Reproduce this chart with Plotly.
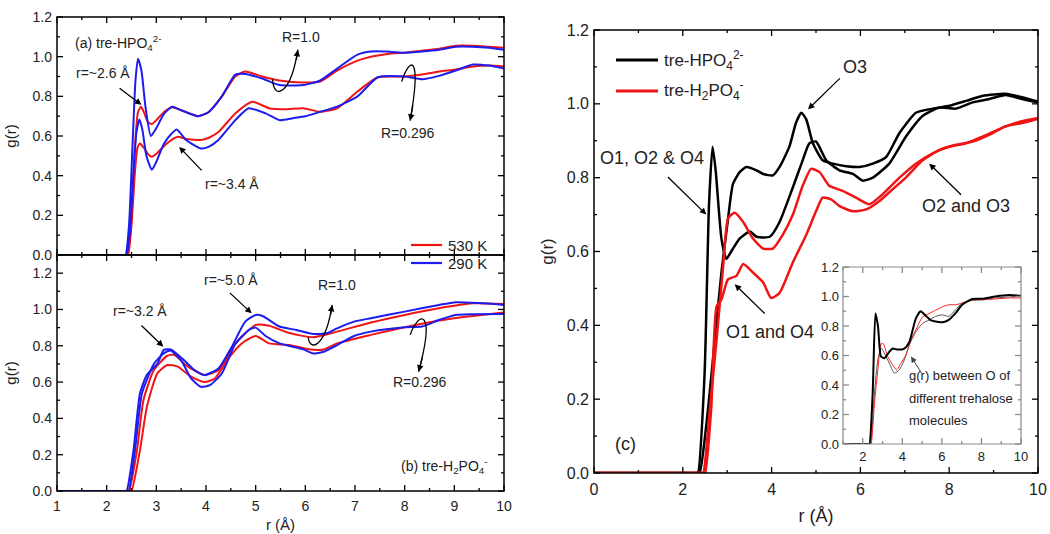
import plotly.graph_objects as go

# ---------------- Panel (a): tre-HPO4(2-) ----------------
a_r1_290_x = [1.0, 2.34, 2.38, 2.45, 2.52, 2.58, 2.63, 2.70, 2.78, 2.89, 3.0, 3.15, 3.32, 3.5, 3.84, 4.05, 4.32, 4.59, 4.79, 5.13, 5.48, 5.96, 6.30, 6.64, 7.05, 7.32, 7.7, 8.0, 8.35, 8.7, 9.03, 9.37, 9.7, 10.0]
a_r1_290_y = [0, 0, 0, 0.15, 0.55, 0.88, 0.99, 0.93, 0.75, 0.60, 0.64, 0.71, 0.748, 0.73, 0.70, 0.72, 0.80, 0.91, 0.913, 0.89, 0.857, 0.857, 0.88, 0.94, 1.01, 1.026, 1.025, 1.02, 1.026, 1.035, 1.05, 1.05, 1.045, 1.035]
a_r1_530_x = [1.0, 2.38, 2.42, 2.5, 2.57, 2.63, 2.69, 2.75, 2.83, 2.91, 3.0, 3.15, 3.32, 3.5, 3.84, 4.05, 4.32, 4.59, 4.79, 5.13, 5.48, 5.96, 6.30, 6.64, 7.05, 7.32, 7.7, 8.0, 8.35, 8.7, 9.03, 9.37, 9.7, 10.0]
a_r1_530_y = [0, 0, 0, 0.2, 0.55, 0.72, 0.748, 0.72, 0.67, 0.66, 0.68, 0.72, 0.745, 0.73, 0.70, 0.72, 0.80, 0.90, 0.925, 0.90, 0.88, 0.87, 0.875, 0.93, 0.98, 1.0, 1.015, 1.02, 1.03, 1.04, 1.055, 1.055, 1.05, 1.045]
a_r3_290_x = [1.0, 2.36, 2.40, 2.47, 2.54, 2.60, 2.66, 2.72, 2.80, 2.91, 3.0, 3.15, 3.30, 3.41, 3.6, 3.9, 4.05, 4.25, 4.59, 4.86, 5.2, 5.48, 5.75, 6.0, 6.3, 6.64, 7.05, 7.46, 8.0, 8.35, 8.69, 9.03, 9.37, 9.7, 10.0]
a_r3_290_y = [0, 0, 0, 0.12, 0.42, 0.62, 0.683, 0.63, 0.50, 0.43, 0.47, 0.56, 0.61, 0.633, 0.58, 0.537, 0.545, 0.58, 0.68, 0.74, 0.714, 0.68, 0.69, 0.70, 0.722, 0.748, 0.80, 0.896, 0.90, 0.886, 0.903, 0.93, 0.96, 0.955, 0.94]
a_r3_530_x = [1.0, 2.39, 2.43, 2.5, 2.57, 2.62, 2.67, 2.75, 2.83, 2.91, 3.0, 3.2, 3.43, 3.6, 3.9, 4.05, 4.25, 4.59, 4.93, 5.27, 5.6, 5.96, 6.3, 6.64, 7.05, 7.46, 8.0, 8.35, 8.69, 9.03, 9.37, 9.7, 10.0]
a_r3_530_y = [0, 0, 0, 0.15, 0.42, 0.54, 0.562, 0.54, 0.51, 0.495, 0.51, 0.56, 0.596, 0.585, 0.58, 0.59, 0.62, 0.714, 0.773, 0.74, 0.735, 0.74, 0.722, 0.74, 0.824, 0.896, 0.90, 0.91, 0.925, 0.935, 0.95, 0.955, 0.95]

# ---------------- Panel (b): tre-H2PO4(-) ----------------
b_r1_290_x = [1.0, 2.36, 2.40, 2.54, 2.67, 2.81, 3.02, 3.15, 3.29, 3.56, 3.77, 3.97, 4.25, 4.52, 4.79, 5.0, 5.14, 5.48, 5.82, 6.16, 6.43, 6.64, 6.98, 7.32, 8.0, 8.69, 9.03, 9.5, 10.0]
b_r1_290_y = [0, 0, 0, 0.224, 0.537, 0.64, 0.70, 0.777, 0.78, 0.72, 0.666, 0.639, 0.675, 0.795, 0.933, 0.97, 0.964, 0.906, 0.887, 0.865, 0.869, 0.896, 0.933, 0.952, 0.988, 1.025, 1.04, 1.035, 1.025]
b_r1_530_x = [1.0, 2.41, 2.45, 2.61, 2.74, 2.95, 3.22, 3.36, 3.63, 3.97, 4.25, 4.59, 5.0, 5.27, 5.68, 6.16, 6.64, 7.32, 8.0, 8.69, 9.37, 10.0]
b_r1_530_y = [0, 0, 0, 0.224, 0.50, 0.666, 0.745, 0.75, 0.686, 0.639, 0.666, 0.81, 0.915, 0.91, 0.87, 0.847, 0.878, 0.928, 0.97, 1.007, 1.034, 1.03]
b_r3_290_x = [1.0, 2.40, 2.44, 2.57, 2.71, 2.95, 3.15, 3.29, 3.5, 3.7, 3.9, 4.08, 4.32, 4.59, 4.86, 5.0, 5.2, 5.48, 5.96, 6.16, 6.37, 6.64, 6.98, 7.32, 8.0, 8.35, 8.69, 9.03, 9.37, 10.0]
b_r3_290_y = [0, 0, 0, 0.224, 0.537, 0.70, 0.758, 0.773, 0.72, 0.62, 0.574, 0.583, 0.648, 0.81, 0.887, 0.90, 0.854, 0.813, 0.78, 0.758, 0.767, 0.804, 0.854, 0.878, 0.902, 0.906, 0.942, 0.97, 0.974, 0.975]
b_r3_530_x = [1.0, 2.46, 2.50, 2.67, 2.81, 3.02, 3.22, 3.43, 3.7, 3.97, 4.18, 4.45, 4.72, 5.0, 5.27, 5.68, 6.09, 6.37, 6.64, 7.32, 8.0, 8.69, 9.37, 10.0]
b_r3_530_y = [0, 0, 0, 0.224, 0.464, 0.648, 0.694, 0.685, 0.63, 0.60, 0.62, 0.73, 0.813, 0.854, 0.813, 0.804, 0.78, 0.78, 0.813, 0.86, 0.902, 0.939, 0.964, 0.983]

# ---------------- Panel (c) ----------------
c_hpo_1_x = [0.0, 2.30, 2.34, 2.49, 2.59, 2.67, 2.74, 2.87, 2.98, 3.09, 3.28, 3.51, 3.66, 3.96, 4.18, 4.48, 4.70, 4.85, 5.0, 5.23, 5.53, 5.83, 6.05, 6.28, 6.65, 7.03, 7.4, 7.78, 8.15, 8.53, 8.9, 9.27, 9.64, 10.0]
c_hpo_1_y = [0, 0, 0, 0.267, 0.727, 0.884, 0.82, 0.635, 0.58, 0.60, 0.635, 0.654, 0.64, 0.64, 0.68, 0.774, 0.847, 0.893, 0.898, 0.847, 0.82, 0.81, 0.792, 0.80, 0.838, 0.912, 0.967, 0.99, 0.987, 1.004, 1.013, 1.024, 1.013, 1.004]
c_hpo_2_x = [0.0, 2.34, 2.38, 2.57, 2.72, 2.87, 3.02, 3.13, 3.28, 3.43, 3.66, 3.81, 4.03, 4.18, 4.40, 4.55, 4.67, 4.78, 4.93, 5.15, 5.38, 5.68, 5.98, 6.28, 6.58, 6.88, 7.25, 7.63, 8.01, 8.38, 8.76, 9.27, 9.64, 10.0]
c_hpo_2_y = [0, 0, 0, 0.175, 0.36, 0.543, 0.69, 0.783, 0.815, 0.829, 0.82, 0.81, 0.806, 0.829, 0.884, 0.949, 0.976, 0.958, 0.893, 0.847, 0.838, 0.831, 0.829, 0.838, 0.856, 0.921, 0.976, 0.987, 0.995, 1.008, 1.022, 1.027, 1.018, 1.006]
c_h2po_1_x = [0.0, 2.42, 2.46, 2.61, 2.76, 2.91, 3.02, 3.17, 3.36, 3.58, 3.81, 4.03, 4.25, 4.48, 4.70, 4.89, 5.08, 5.30, 5.60, 5.9, 6.2, 6.5, 6.88, 7.25, 7.63, 8.01, 8.38, 8.76, 9.27, 9.64, 10.0]
c_h2po_1_y = [0, 0, 0, 0.175, 0.36, 0.562, 0.69, 0.705, 0.68, 0.635, 0.608, 0.608, 0.645, 0.70, 0.778, 0.824, 0.815, 0.778, 0.764, 0.746, 0.728, 0.755, 0.80, 0.838, 0.866, 0.884, 0.893, 0.912, 0.939, 0.953, 0.962]
c_h2po_2_x = [0.0, 2.46, 2.50, 2.64, 2.76, 2.87, 3.02, 3.21, 3.36, 3.58, 3.81, 3.99, 4.18, 4.48, 4.78, 5.0, 5.15, 5.34, 5.53, 5.83, 6.13, 6.43, 6.73, 7.03, 7.4, 7.78, 8.15, 8.53, 8.9, 9.27, 9.64, 10.0]
c_h2po_2_y = [0, 0, 0, 0.175, 0.451, 0.47, 0.525, 0.534, 0.566, 0.543, 0.516, 0.474, 0.488, 0.571, 0.645, 0.709, 0.746, 0.741, 0.723, 0.709, 0.714, 0.737, 0.769, 0.801, 0.847, 0.875, 0.889, 0.898, 0.916, 0.939, 0.948, 0.96]

# ---------------- Inset ----------------
i_blk_x = [1.0, 2.30, 2.34, 2.5, 2.64, 2.77, 2.92, 3.09, 3.34, 3.51, 3.76, 4.1, 4.35, 4.68, 4.93, 5.18, 5.43, 5.68, 6.02, 6.35, 6.69, 7.02, 7.53, 8.03, 8.7, 9.38, 10.0]
i_blk_y = [0, 0, 0, 0.344, 0.887, 0.797, 0.593, 0.582, 0.625, 0.647, 0.64, 0.647, 0.69, 0.85, 0.90, 0.87, 0.84, 0.83, 0.826, 0.842, 0.887, 0.944, 0.983, 0.985, 1.0, 1.01, 1.005]
i_red_x = [1.0, 2.38, 2.42, 2.59, 2.76, 2.93, 3.04, 3.26, 3.51, 3.71, 3.93, 4.18, 4.43, 4.68, 5.02, 5.35, 5.68, 6.02, 6.35, 6.69, 7.02, 7.53, 8.03, 8.7, 9.38, 10.0]
i_red_y = [0, 0, 0, 0.276, 0.5, 0.68, 0.68, 0.593, 0.536, 0.503, 0.548, 0.604, 0.705, 0.772, 0.862, 0.884, 0.907, 0.93, 0.944, 0.944, 0.955, 0.978, 0.978, 0.983, 0.99, 0.99]
i_gry_x = [1.0, 2.35, 2.39, 2.59, 2.76, 2.93, 3.09, 3.34, 3.6, 3.85, 4.1, 4.35, 4.68, 5.02, 5.35, 5.68, 6.02, 6.35, 6.69, 7.02, 7.53, 8.03, 8.7, 9.38, 10.0]
i_gry_y = [0, 0, 0, 0.344, 0.57, 0.65, 0.616, 0.548, 0.48, 0.503, 0.57, 0.67, 0.76, 0.818, 0.84, 0.865, 0.876, 0.865, 0.91, 0.955, 0.973, 0.978, 0.99, 0.997, 1.0]

# ---------------- ticks ----------------
ab_x_major = [1, 2, 3, 4, 5, 6, 7, 8, 9, 10]
ab_x_minor = [1.5, 2.5, 3.5, 4.5, 5.5, 6.5, 7.5, 8.5, 9.5]
c_x_major = [0, 2, 4, 6, 8, 10]
c_x_minor = [1, 3, 5, 7, 9]
in_x_major = [2, 4, 6, 8, 10]
in_x_minor = [1, 3, 5, 7, 9]
y_major = [0.0, 0.2, 0.4, 0.6, 0.8, 1.0, 1.2]
y_minor = [0.1, 0.3, 0.5, 0.7, 0.9, 1.1]

# legend labels
legend_a_labels = ["530 K", "290 K"]
legend_c_labels = ["tre-HPO<sub>4</sub><sup>2-</sup>", "tre-H<sub>2</sub>PO<sub>4</sub><sup>-</sup>"]

RED = "#f01414"
BLUE = "#1c1cf0"
FONT = "Liberation Sans, Arial, sans-serif"

fig = go.Figure()

def line(x, y, color, width, xa, ya):
    fig.add_trace(go.Scatter(
        x=x, y=y, mode="lines", xaxis=xa, yaxis=ya,
        line=dict(color=color, width=width, shape="spline", smoothing=0.55),
        showlegend=False, hoverinfo="skip"))

# panel a
line(a_r1_530_x, a_r1_530_y, RED, 2, "x", "y")
line(a_r3_530_x, a_r3_530_y, RED, 2, "x", "y")
line(a_r1_290_x, a_r1_290_y, BLUE, 2, "x", "y")
line(a_r3_290_x, a_r3_290_y, BLUE, 2, "x", "y")
# panel b
line(b_r1_530_x, b_r1_530_y, RED, 2, "x2", "y2")
line(b_r3_530_x, b_r3_530_y, RED, 2, "x2", "y2")
line(b_r1_290_x, b_r1_290_y, BLUE, 2, "x2", "y2")
line(b_r3_290_x, b_r3_290_y, BLUE, 2, "x2", "y2")
# panel c
line(c_hpo_1_x, c_hpo_1_y, "black", 2.5, "x3", "y3")
line(c_hpo_2_x, c_hpo_2_y, "black", 2.5, "x3", "y3")
line(c_h2po_1_x, c_h2po_1_y, RED, 2.5, "x3", "y3")
line(c_h2po_2_x, c_h2po_2_y, RED, 2.5, "x3", "y3")
# inset
line(i_gry_x, i_gry_y, "#555555", 1, "x4", "y4")
line(i_red_x, i_red_y, "#ff2020", 1, "x4", "y4")
line(i_blk_x, i_blk_y, "black", 2, "x4", "y4")


def axis(domain, rng, tickvals, size, anchor, labels=True, title=None, tsize=15,
         fmt=None, standoff=6, lab_off=0):
    d = dict(domain=domain, range=rng, tickmode="array", tickvals=tickvals, anchor=anchor,
             showline=False, ticks="", showgrid=False, zeroline=False, automargin=False,
             showticklabels=labels, fixedrange=True, ticklabelstandoff=lab_off,
             tickfont=dict(size=size, color="#222", family=FONT))
    if fmt:
        d["tickformat"] = fmt
    if title:
        d["title"] = dict(text=title, font=dict(size=tsize, color="#222", family=FONT),
                          standoff=standoff)
    return d


W, H = 1050, 534
def px(x0, x1):
    return [x0 / W, x1 / W]
def py(top, bottom):
    return [1 - bottom / H, 1 - top / H]

fig.update_layout(
    template="none",
    width=W, height=H, margin=dict(l=0, r=0, t=0, b=0, pad=0, autoexpand=False),
    paper_bgcolor="white", plot_bgcolor="rgba(0,0,0,0)",
    font=dict(family=FONT, color="#222"), showlegend=False,
    xaxis=axis(px(57, 504), [1, 10], ab_x_major, 14, "y", labels=False),
    yaxis=axis(py(17, 255), [0, 1.2], y_major, 14, "x", title="g(r)", fmt=".1f", standoff=12, lab_off=4),
    xaxis2=axis(px(57, 504), [1, 10], ab_x_major, 14, "y2", title="r (Å)", tsize=15, lab_off=5),
    yaxis2=axis(py(255, 491), [0, 1.3], y_major, 14, "x2", title="g(r)", fmt=".1f", standoff=12, lab_off=4),
    xaxis3=axis(px(594, 1038), [0, 10], c_x_major, 16, "y3", title="r (Å)", tsize=18, standoff=12, lab_off=5),
    yaxis3=axis(py(30, 473), [0, 1.2], y_major, 16, "x3", title="g(r)", tsize=17, fmt=".1f", standoff=8, lab_off=4),
    xaxis4=axis(px(843, 1021), [1, 10], in_x_major, 13, "y4", lab_off=3),
    yaxis4=axis(py(267, 444), [0, 1.2], y_major, 13, "x4", fmt=".1f", lab_off=3),
)

ann = []
shapes = []

def frame(x0px, x1px, top, bottom, xr, yr, xmaj, xmin, ymaj, ymin, color, lw):
    """Box and inward ticks in paper space, placed from the axis ranges."""
    def X(v):
        return (x0px + (v - xr[0]) / (xr[1] - xr[0]) * (x1px - x0px)) / W
    def Y(v):
        return 1 - (bottom - (v - yr[0]) / (yr[1] - yr[0]) * (bottom - top)) / H
    for vals, L in ((xmaj, 6), (xmin, 3)):
        for v in vals:
            for a, b in ((bottom, bottom - L), (top, top + L)):
                shapes.append(dict(type="line", xref="paper", yref="paper",
                                   x0=X(v), x1=X(v), y0=1 - a / H, y1=1 - b / H,
                                   line=dict(color=color, width=1.3)))
    for vals, L in ((ymaj, 6), (ymin, 3)):
        for v in vals:
            if v > yr[1]:
                continue
            for a, b in ((x0px, x0px + L), (x1px, x1px - L)):
                shapes.append(dict(type="line", xref="paper", yref="paper",
                                   x0=a / W, x1=b / W, y0=Y(v), y1=Y(v),
                                   line=dict(color=color, width=1.3)))
    shapes.append(dict(type="rect", xref="paper", yref="paper",
                       x0=x0px / W, x1=x1px / W, y0=1 - bottom / H, y1=1 - top / H,
                       line=dict(color=color, width=lw), fillcolor="rgba(0,0,0,0)"))

frame(57, 504, 17, 255, (1, 10), (0, 1.2), ab_x_major, ab_x_minor, y_major, y_minor, "black", 1.5)
frame(57, 504, 255, 491, (1, 10), (0, 1.3), ab_x_major, ab_x_minor, y_major, y_minor, "black", 1.5)
frame(594, 1038, 30, 473, (0, 10), (0, 1.2), c_x_major, c_x_minor, y_major, y_minor, "black", 1.5)
frame(843, 1021, 267, 444, (1, 10), (0, 1.2), in_x_major, in_x_minor, y_major, y_minor, "#8a8a8a", 1.2)

def text(t, x, y, xr, yr, size=14, xanchor="center"):
    ann.append(dict(text=t, x=x, y=y, xref=xr, yref=yr, showarrow=False,
                    xanchor=xanchor, yanchor="middle",
                    font=dict(size=size, family=FONT, color="#222")))

def arrow(hx, hy, tx, ty, xr, yr, color="black", w=1.3, size=1.0):
    ann.append(dict(text="", x=hx, y=hy, ax=tx, ay=ty, xref=xr, yref=yr,
                    axref=xr, ayref=yr, showarrow=True, arrowhead=2,
                    arrowsize=size, arrowwidth=w, arrowcolor=color, standoff=0))

def hook(p0, p1, p2, p3, xr, yr):
    path = "M %g,%g C %g,%g %g,%g %g,%g" % (p0 + p1 + p2 + p3)
    shapes.append(dict(type="path", path=path, xref=xr, yref=yr,
                       line=dict(color="black", width=1.3)))
    tx = p3[0] - 0.25 * (p3[0] - p2[0])
    ty = p3[1] - 0.25 * (p3[1] - p2[1])
    arrow(p3[0], p3[1], tx, ty, xr, yr)

def legend_item(label, color, width, x0, x1, y, size):
    shapes.append(dict(type="line", xref="paper", yref="paper",
                       x0=x0 / W, x1=x1 / W, y0=1 - y / H, y1=1 - y / H,
                       line=dict(color=color, width=width)))
    ann.append(dict(text=label, x=(x1 + 4) / W, y=1 - y / H, xref="paper", yref="paper",
                    showarrow=False, xanchor="left", yanchor="middle",
                    font=dict(size=size, family=FONT, color="#222")))

# legends
legend_item(legend_a_labels[0], RED, 2.2, 411, 442, 245, 15)
legend_item(legend_a_labels[1], BLUE, 2.2, 411, 442, 263, 15)
legend_item(legend_c_labels[0], "black", 2.8, 616, 658, 60, 17)
legend_item(legend_c_labels[1], RED, 2.8, 616, 658, 91, 17)

# panel a annotations
text("(a) tre-HPO<sub>4</sub><sup>2-</sup>", 1.32, 1.07, "x", "y", 14, "left")
text("r=~2.6 Å", 1.92, 0.92, "x", "y", 14)
arrow(2.70, 0.757, 2.23, 0.846, "x", "y")
text("r=~3.4 Å", 4.52, 0.356, "x", "y", 14)
arrow(3.46, 0.545, 3.94, 0.419, "x", "y")
text("R=1.0", 5.92, 1.10, "x", "y", 14)
hook((5.34, 0.886), (5.36, 0.78), (5.70, 0.80), (5.85, 1.035), "x", "y")
text("R=0.296", 8.07, 0.613, "x", "y", 14)
hook((7.94, 0.874), (8.10, 1.0), (8.35, 1.02), (8.11, 0.677), "x", "y")

# panel b annotations
text("r=~3.2 Å", 2.67, 0.99, "x2", "y2", 14)
arrow(3.14, 0.795, 2.67, 0.92, "x2", "y2")
text("r=~5.0 Å", 4.51, 1.16, "x2", "y2", 14)
arrow(4.92, 0.979, 4.45, 1.099, "x2", "y2")
text("R=1.0", 6.64, 1.136, "x2", "y2", 14)
hook((6.06, 0.847), (6.08, 0.77), (6.40, 0.78), (6.54, 1.025), "x2", "y2")
text("R=0.296", 8.31, 0.598, "x2", "y2", 14)
hook((8.11, 0.86), (8.30, 1.0), (8.62, 1.0), (8.28, 0.657), "x2", "y2")
text("(b) tre-H<sub>2</sub>PO<sub>4</sub><sup>-</sup>", 9.72, 0.135, "x2", "y2", 14, "right")

# panel c annotations
text("O3", 5.87, 1.10, "x3", "y3", 18)
arrow(4.82, 0.985, 5.57, 1.073, "x3", "y3")
text("O1, O2 &amp; O4", 1.30, 0.852, "x3", "y3", 18)
arrow(2.53, 0.70, 1.63, 0.806, "x3", "y3")
text("O1 and O4", 3.96, 0.382, "x3", "y3", 18)
arrow(3.17, 0.511, 3.88, 0.428, "x3", "y3")
text("O2 and O3", 8.37, 0.723, "x3", "y3", 18)
arrow(7.55, 0.838, 8.30, 0.75, "x3", "y3")
text("(c)", 0.72, 0.078, "x3", "y3", 18)

# inset annotations
text("g(r) between O of", 4.22, 0.466, "x4", "y4", 13, "left")
text("different trehalose", 4.22, 0.308, "x4", "y4", 13, "left")
text("molecules", 4.22, 0.16, "x4", "y4", 13, "left")
arrow(4.44, 0.593, 5.02, 0.47, "x4", "y4", color="#444444", w=1.0, size=1.2)

fig.update_layout(annotations=ann, shapes=shapes)
fig.write_html("out.html", config={"displayModeBar": False},
               post_script="document.body.style.margin='0px';")
